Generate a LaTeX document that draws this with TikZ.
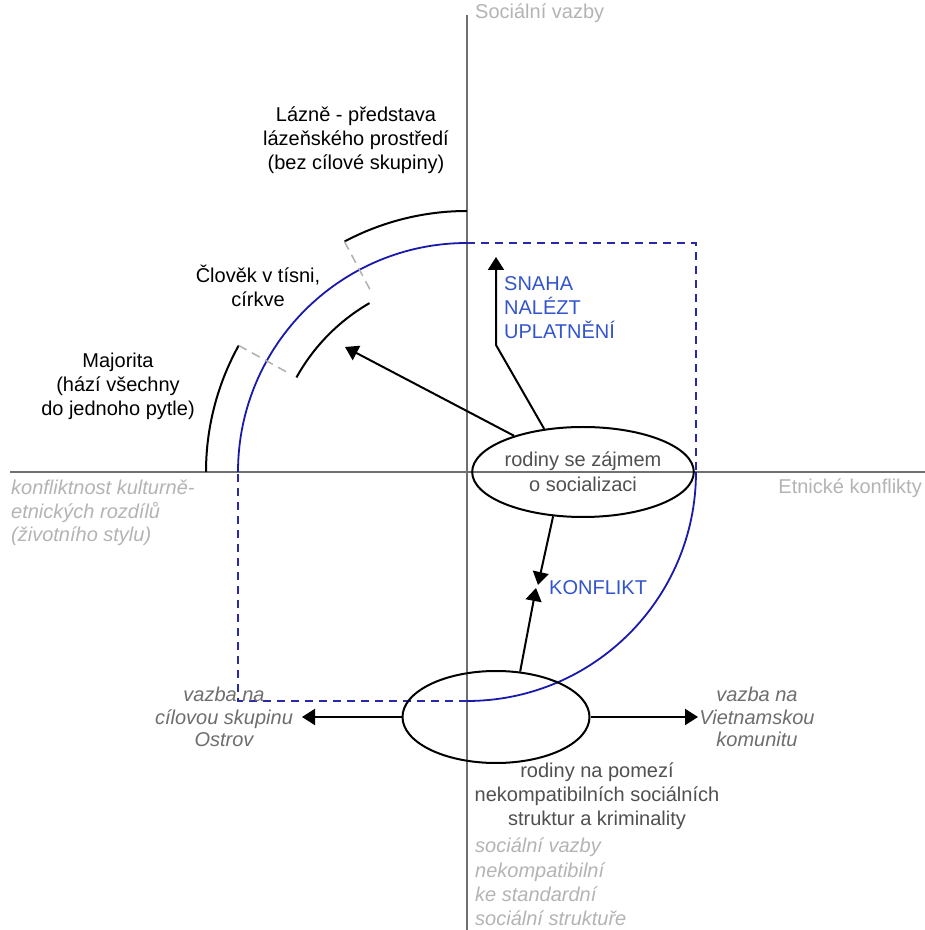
\documentclass[tikz,border=0pt]{standalone}
\usepackage{fontspec}
\setmainfont{Liberation Sans}
\usetikzlibrary{arrows.meta,shapes.geometric,calc}
\definecolor{axisgray}{HTML}{707070}
\definecolor{lightlab}{HTML}{B4B4B4}
\definecolor{darklab}{HTML}{505050}
\definecolor{midlab}{HTML}{6E6E6E}
\definecolor{bluetext}{HTML}{3355CC}
\definecolor{bluearc}{HTML}{1A1AAA}
\definecolor{bluedash}{HTML}{2A2AA8}
\definecolor{graydash}{HTML}{B0B0B0}
\begin{document}
\begin{tikzpicture}[x=1pt,y=1pt,
  lab/.style={inner sep=0pt,font=\fontsize{20pt}{24pt}\selectfont},
  axisline/.style={axisgray,line width=1.5pt},
  arcblue/.style={bluearc,line width=1.8pt},
  dashblue/.style={bluedash,line width=2.2pt,dash pattern=on 8pt off 6pt},
  arcblack/.style={black,line width=2pt},
  radial/.style={graydash,line width=1.5pt,dash pattern=on 9pt off 6pt},
  ell/.style={ellipse,draw=black,line width=2pt,inner sep=0pt,align=center,text=darklab,font=\fontsize{20pt}{25pt}\selectfont},
  arr/.style={black,line width=2pt,-{Triangle[length=13pt,width=16pt]}},
]
\useasboundingbox[fill=white] (0,0) rectangle (925,930);
% axes
\coordinate (O) at (467,458);
\coordinate (vtop) at (467,915);
\coordinate (vbot) at (467,0);
\coordinate (hl) at (10,458);
\coordinate (hr) at (925,458);
\draw[axisline] (vtop) -- (vbot);
\draw[axisline] (hl) -- (hr);
% blue arcs and dashed square
\coordinate (bTop) at (467,687);
\coordinate (bLeft) at (238,458);
\coordinate (bRight) at (696,458);
\coordinate (bBot) at (467,229);
\coordinate (cTR) at (696,687);
\coordinate (cBL) at (238,229);
\draw[dashblue] (bTop) -- (cTR) -- (bRight);
\draw[dashblue] (bBot) -- (cBL) -- (bLeft);
\draw[arcblue] (bTop) arc[start angle=90,end angle=180,radius=229];
\draw[arcblue] (bRight) arc[start angle=0,end angle=-90,radius=229];
% black arcs
\coordinate (kTop) at (467,719);
\draw[arcblack] (kTop) arc[start angle=90,end angle=118,radius=261];
\coordinate (kMaj) at ($(O)+(151:261)$);
\draw[arcblack] (kMaj) arc[start angle=151,end angle=180,radius=261];
\coordinate (kIn) at ($(O)+(120:195)$);
\draw[arcblack] (kIn) arc[start angle=120,end angle=151,radius=195];
% radial gray dashes
\coordinate (r1a) at ($(O)+(118:261)$);
\coordinate (r1b) at ($(O)+(118:204)$);
\coordinate (r2a) at ($(O)+(151:261)$);
\coordinate (r2b) at ($(O)+(151:204)$);
\draw[radial] (r1a) -- (r1b);
\draw[radial] (r2a) -- (r2b);
% ellipses
\node[ell,minimum width=188pt,minimum height=90pt] (e1) at (583,458) {rodiny se zájmem\\o socializaci};
\node[ell,minimum width=187pt,minimum height=92pt] (e2) at (496,213) {};
% arrows
\coordinate (tipL) at (345,583);
\draw[arr] (e1) -- (tipL);
\coordinate (bend) at (496,585);
\coordinate (tipU) at (496,673);
\draw[arr] (e1.132) -- (bend) -- (tipU);
\coordinate (tipK1) at (538,345);
\coordinate (tipK2) at (536,342);
\draw[arr] (e1.236) -- (tipK1);
\draw[arr] (e2.62) -- (tipK2);
\coordinate (tipW) at (302,213);
\coordinate (tipE) at (698,213);
\draw[arr] (e2.west) -- (tipW);
\draw[arr] (e2.east) -- (tipE);
% labels
\node[lab,text=lightlab,anchor=west] (sv) at (475,917) {Sociální vazby};
\node[lab,text=lightlab,anchor=east] (ek) at (922,442) {Etnické konflikty};
\node[lab,text=lightlab,anchor=west,align=left,font=\itshape\fontsize{20pt}{23.5pt}\selectfont] (kk) at (11,417) {konfliktnost kulturně-\\etnických rozdílů\\(životního stylu)};
\node[lab,align=center] (lz) at (356,790) {Lázně - představa\\lázeňského prostředí\\(bez cílové skupiny)};
\node[lab,align=center] (cl) at (258,644) {Člověk v tísni,\\církve};
\node[lab,align=center] (mj) at (118,544) {Majorita\\(hází všechny\\do jednoho pytle)};
\node[lab,text=bluetext,anchor=west,align=left] (sn) at (504,622) {SNAHA\\NALÉZT\\UPLATNĚNÍ};
\node[lab,text=bluetext,anchor=west] (kf) at (549,342) {KONFLIKT};
\node[lab,text=darklab,align=center] (rp) at (597,134) {rodiny na pomezí\\nekompatibilních sociálních\\struktur a kriminality};
\node[lab,text=lightlab,anchor=west,align=left,font=\itshape\fontsize{20pt}{24.3pt}\selectfont] (ns) at (475,48) {sociální vazby\\nekompatibilní\\ke standardní\\sociální struktuře};
\node[lab,text=midlab,align=center,font=\itshape\fontsize{20pt}{22.5pt}\selectfont] (vo) at (224,213) {vazba na\\cílovou skupinu\\Ostrov};
\node[lab,text=midlab,align=center,font=\itshape\fontsize{20pt}{22.5pt}\selectfont] (vv) at (757,213) {vazba na\\Vietnamskou\\komunitu};
\end{tikzpicture}
\end{document}
